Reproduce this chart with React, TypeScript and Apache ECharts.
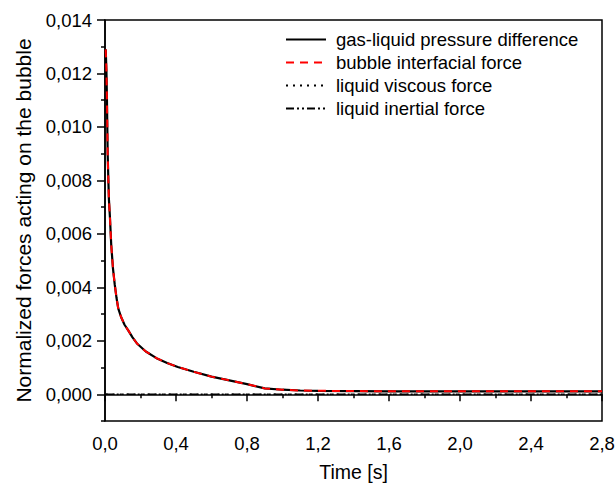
import React, { useEffect, useRef } from "react";
import * as echarts from "echarts";

const timeS = [0.004, 0.008, 0.011, 0.015, 0.019, 0.022, 0.028, 0.035, 0.045, 0.055, 0.065, 0.075, 0.09, 0.11, 0.13, 0.155, 0.18, 0.23, 0.29, 0.35, 0.41, 0.5, 0.6, 0.7, 0.8, 0.9, 1.0, 1.1, 1.2, 1.4, 1.6, 2.0, 2.4, 2.8];
const pressureDiff = [0.0129, 0.0121, 0.011, 0.009, 0.008, 0.0073, 0.0066, 0.0056, 0.0047, 0.0041, 0.0036, 0.0032, 0.0029, 0.0026, 0.0024, 0.00213, 0.0019, 0.0016, 0.00135, 0.00117, 0.00102, 0.00084, 0.00066, 0.00052, 0.00038, 0.00022, 0.00017, 0.00014, 0.00013, 0.00012, 0.00011, 0.00011, 0.00011, 0.00011];
const interfacial = [0.0129, 0.0121, 0.011, 0.009, 0.008, 0.0073, 0.0066, 0.0056, 0.0047, 0.0041, 0.0036, 0.0032, 0.0029, 0.0026, 0.0024, 0.00213, 0.0019, 0.0016, 0.00135, 0.00117, 0.00102, 0.00084, 0.00066, 0.00052, 0.00038, 0.00022, 0.00017, 0.00014, 0.00013, 0.00012, 0.00011, 0.00011, 0.00011, 0.00011];
const viscous = [0, 0, 0, 0, 0, 0, 0, 0, 0, 0, 0, 0, 0, 0, 0, 0, 0, 0, 0, 0, 0, 0, 0, 0, 0, 0, 0, 0, 0, 0, 0, 0, 0, 0];
const inertial = [0, 0, 0, 0, 0, 0, 0, 0, 0, 0, 0, 0, 0, 0, 0, 0, 0, 0, 0, 0, 0, 0, 0, 0, 0, 0, 0, 0, 0, 0, 0, 0, 0, 0];

const seriesNames = ["gas-liquid pressure difference", "bubble interfacial force", "liquid viscous force", "liquid inertial force"];
const yMajorTicks = [0, 0.002, 0.004, 0.006, 0.008, 0.01, 0.012, 0.014];
const yMinorTicks = [-0.001, 0.001, 0.003, 0.005, 0.007, 0.009, 0.011, 0.013];

const FONT = "'Liberation Sans', Arial, sans-serif";

function pairs(xs: number[], ys: number[]) {
  return xs.map((x, i) => [x, ys[i]]);
}

export default function App() {
  const ref = useRef<HTMLDivElement>(null);
  useEffect(() => {
    if (!ref.current) return;
    const chart = echarts.init(ref.current, undefined, { renderer: "svg" });
    const axisLine = { show: true, lineStyle: { color: "#000", width: 1.5 } };
    chart.setOption({
      animation: false,
      backgroundColor: "#fff",
      grid: {
        left: 105, right: 14, top: 20, bottom: 63,
        show: true, borderColor: "#000", borderWidth: 1.5,
        outerBoundsMode: "none",
      },
      legend: {
        orient: "vertical",
        left: 285,
        top: 30,
        padding: 0,
        itemWidth: 40,
        itemHeight: 14,
        itemGap: 4,
        itemStyle: { opacity: 0 },
        textStyle: { fontSize: 18.5, color: "#000", fontFamily: FONT, padding: [0, 0, 0, 5] },
        data: seriesNames,
        selectedMode: false,
      },
      xAxis: {
        type: "value",
        min: 0, max: 2.8, interval: 0.4,
        name: "Time [s]",
        nameLocation: "middle",
        nameGap: 41,
        nameTextStyle: { fontSize: 19.5, color: "#000", fontFamily: FONT },
        axisLine,
        axisTick: { show: true, inside: false, length: 7, lineStyle: { color: "#000", width: 1.5 } },
        minorTick: { show: true, splitNumber: 2, length: 4, lineStyle: { color: "#000", width: 1.5 } },
        splitLine: { show: false },
        axisLabel: {
          fontSize: 18.5, color: "#000", fontFamily: FONT, margin: 13,
          formatter: (v: number) => v.toFixed(1).replace(".", ","),
        },
      },
      yAxis: [
        {
          type: "value",
          min: -0.001, max: 0.014,
          name: "Normalized forces acting on the bubble",
          nameLocation: "middle",
          nameGap: 71,
          nameTextStyle: { fontSize: 21, color: "#000", fontFamily: FONT },
          axisLine,
          axisTick: { show: true, inside: false, length: 8, customValues: yMajorTicks, lineStyle: { color: "#000", width: 1.5 } },
          splitLine: { show: false },
          axisLabel: {
            fontSize: 18.5, color: "#000", fontFamily: FONT, margin: 13,
            customValues: yMajorTicks,
            formatter: (v: number) => v.toFixed(3).replace(".", ","),
          },
        },
        {
          type: "value",
          position: "left",
          offset: 0,
          min: -0.001, max: 0.014,
          axisLine: { show: false },
          axisTick: { show: true, inside: false, length: 4, customValues: yMinorTicks, lineStyle: { color: "#000", width: 1.5 } },
          axisLabel: { show: false },
          splitLine: { show: false },
        },
      ],
      series: [
        {
          name: seriesNames[0], type: "line", symbol: "none",
          data: pairs(timeS, pressureDiff),
          lineStyle: { color: "#000", width: 2.2, type: "solid" },
          itemStyle: { color: "#000" },
          z: 3,
        },
        {
          name: seriesNames[1], type: "line", symbol: "none",
          data: pairs(timeS, interfacial),
          lineStyle: { color: "#ff0000", width: 2, type: [8, 6] },
          itemStyle: { color: "#ff0000" },
          z: 4,
        },
        {
          name: seriesNames[2], type: "line", symbol: "none",
          data: pairs(timeS, viscous),
          lineStyle: { color: "#000", width: 1.5, type: [2, 5] },
          itemStyle: { color: "#000" },
          z: 2,
        },
        {
          name: seriesNames[3], type: "line", symbol: "none",
          data: pairs(timeS, inertial),
          lineStyle: { color: "#000", width: 1.5, type: [8, 3, 2, 3, 2, 3] },
          itemStyle: { color: "#000" },
          z: 2,
        },
      ],
    });
    return () => chart.dispose();
  }, []);
  return <div ref={ref} style={{ position: "fixed", left: 0, top: 0, width: 616, height: 484 }} />;
}
